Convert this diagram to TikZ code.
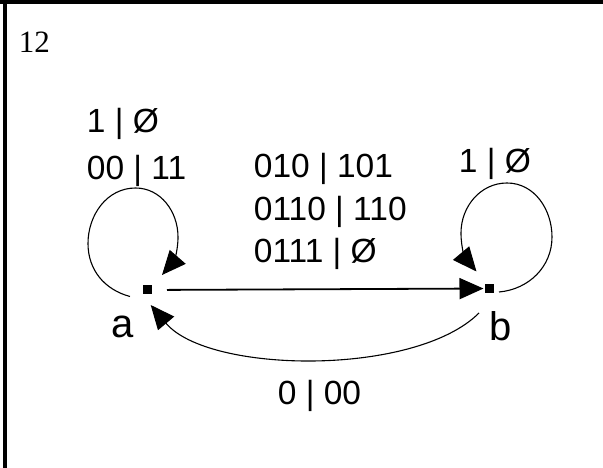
\documentclass[tikz,border=0pt]{standalone}
\usepackage{fontspec}
\setmainfont{Liberation Serif}
\newfontfamily\labelfont{Liberation Sans}
\usetikzlibrary{arrows.meta,positioning}
\tikzset{every picture/.style={line width=0.75pt}}
\tikzset{
  state/.style={fill=black, minimum size=9pt, inner sep=0pt, outer sep=0pt},
  edgelbl/.style={font=\labelfont\fontsize{33.5}{42.5}\selectfont, inner sep=0pt, anchor=base west, align=left},
  statelbl/.style={font=\labelfont\fontsize{40}{48}\selectfont, inner sep=0pt, anchor=base west},
  trans/.style={-{Triangle[length=24pt,width=21pt]}, line width=1.1pt},
}

\begin{document}
\begin{tikzpicture}[x=1pt,y=1pt]
    % 画布与边框
    \useasboundingbox (0,0) rectangle (603,468);
    \fill[white] (0,0) rectangle (603,468);
    \fill[black] (0,464) rectangle (603,468);
    \fill[black] (3,0) rectangle (7,468);

    % 题号
    \node[font=\fontsize{31}{36}\selectfont, inner sep=0pt, anchor=base west] (num) at (18.5,415) {12};

    % 状态 a 和 b
    \node[state] (a) at (147.5,178) {};
    \node[state] (b) at (489.5,179.5) {};
    \node[statelbl] (alab) at (111.5,130) {a};
    \node[statelbl] (blab) at (489.5,127) {b};

    % 转移 a -> b
    \draw[trans, line width=1.8pt, shorten <=15pt, shorten >=1.5pt] (a) -- (b);
    \node[edgelbl] (ablab) at (253.5,205) {010 | 101\\0110 | 110\\0111 | Ø};

    % a 的自环
    \draw[trans] ([shift={(-13,-2)}]a.south west) to[out=165,in=-90] ++(-42,53)
        to[out=90,in=180] ++(47.5,55.5) to[out=0,in=90] ++(42.5,-49)
        to[out=-90,in=49] ([shift={(10,10.5)}]a.north east);
    \node[edgelbl] (aalab) at (86.5,288) {1 | Ø\\[4.5pt]00 | 11};

    % b 的自环
    \draw[trans] ([shift={(5,1)}]b.south east) to[out=5,in=-90] ++(53,55)
        to[out=90,in=0] ++(-45,54) to[out=180,in=90] ++(-46,-50)
        to[out=-90,in=130] ([shift={(-8.5,12.5)}]b.north west);
    \node[edgelbl] (bblab) at (458.5,295) {1 | Ø};

    % 转移 b -> a
    \draw[trans] ([shift={(-6,-20)}]b.south west) to[out=225,in=-50,looseness=0.7]
        ([shift={(-1.3,-10.5)}]a.south east);
    \node[edgelbl] (balab) at (277.5,63) {0 | 00};
\end{tikzpicture}
\end{document}
